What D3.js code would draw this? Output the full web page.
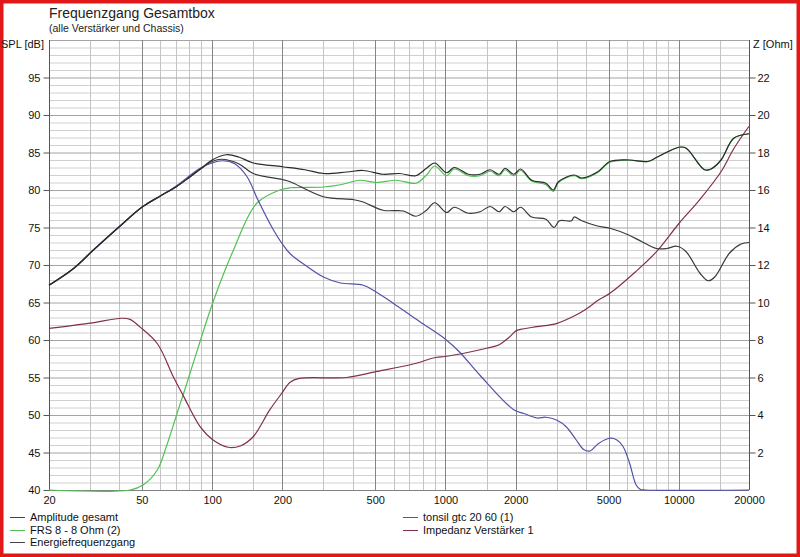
<!DOCTYPE html>
<html>
<head>
<meta charset="utf-8">
<title>Frequenzgang Gesamtbox</title>
<script src="https://cdn.jsdelivr.net/npm/d3@7"></script>
<style>
  body { margin: 0; background: #fff; }
  svg { display: block; font-family: "Liberation Sans", Arial, sans-serif; }
</style>
</head>
<body>
<div id="chart"></div>
<script>
// frequency response data (Hz / dB, impedance in Ohm)
const amp_freq = [20, 25.4, 31, 40, 50, 60, 70, 80, 90, 100, 115, 130, 150, 200, 250, 300, 378, 444, 540, 636, 747, 830, 900, 1012, 1090, 1255, 1406, 1555, 1700, 1800, 1962, 2100, 2342, 2696, 2900, 3050, 3560, 3840, 4480, 5070, 6100, 7360, 8100, 10000, 10730, 12900, 13750, 15180, 17200, 20000];
const amp_db   = [67.3, 69.5, 72.0, 75.1, 77.7, 79.2, 80.4, 81.7, 82.9, 84.0, 84.7, 84.4, 83.6, 83.1, 82.7, 82.2, 82.4, 82.6, 82.1, 82.2, 81.9, 82.9, 83.6, 82.3, 83.0, 82.1, 82.1, 82.7, 82.1, 82.9, 82.1, 82.8, 81.3, 80.9, 80.0, 81.1, 82.0, 81.6, 82.4, 83.8, 84.0, 83.8, 84.4, 85.7, 85.6, 82.7, 82.8, 84.0, 86.9, 87.5];

const frs_freq = [20, 44.5, 50.8, 58.3, 63.7, 70.1, 77.9, 88.8, 101, 123.5, 155, 195, 216, 300, 355, 430, 505, 616, 747, 830, 900, 1012, 1090, 1255, 1406, 1555, 1700, 1800, 1962, 2100, 2342, 2696, 2900, 3050, 3560, 3840, 4480, 5070, 6100, 7360, 8100, 10000, 10730, 12900, 13750, 15180, 17200, 20000];
const frs_db   = [40, 40, 40.7, 42.7, 45.8, 49.8, 54.2, 59.8, 65.1, 72.0, 78.2, 80.0, 80.3, 80.4, 80.7, 81.3, 81.0, 81.3, 80.9, 82.0, 83.2, 81.9, 82.8, 81.9, 81.9, 82.5, 81.9, 82.7, 81.9, 82.6, 81.2, 80.7, 79.8, 81.0, 81.9, 81.5, 82.3, 83.7, 84.0, 83.8, 84.4, 85.7, 85.6, 82.7, 82.8, 84.0, 86.9, 87.5];

const energy_freq = [20, 25.4, 31, 40, 50, 60, 70, 80, 90, 100, 110, 130, 150, 200, 216, 300, 405, 444, 540, 660, 747, 830, 900, 1012, 1090, 1255, 1406, 1555, 1700, 1800, 1962, 2100, 2342, 2696, 2920, 3080, 3470, 3560, 3840, 4480, 5070, 6100, 6960, 8010, 8876, 9820, 10730, 12330, 13380, 14260, 16510, 18500, 20000];
const energy_db   = [67.3, 69.5, 72.0, 75.1, 77.7, 79.2, 80.4, 81.7, 82.9, 83.8, 84.1, 83.5, 82.2, 81.4, 81.1, 79.1, 78.7, 78.4, 77.3, 77.2, 76.5, 77.3, 78.3, 77.0, 77.7, 76.9, 77.1, 77.8, 77.1, 77.8, 77.1, 77.7, 76.4, 76.1, 75.0, 75.9, 75.9, 76.4, 75.9, 75.2, 74.9, 74.0, 73.1, 72.2, 72.2, 72.5, 71.8, 68.9, 67.9, 68.4, 71.6, 72.8, 73.0];

const tonsil_freq = [20, 25.4, 31, 40, 50, 60, 70, 80, 90, 100, 111, 125, 141, 157, 183, 200, 216, 250, 300, 355, 444, 505, 597, 780, 1000, 1149, 1406, 1962, 2170, 2470, 2696, 3010, 3300, 3630, 3910, 4170, 4530, 5070, 5410, 5770, 6150, 6560, 6830, 7200, 20000];
const tonsil_db   = [67.3, 69.5, 72.0, 75.1, 77.7, 79.2, 80.5, 81.9, 83.0, 83.6, 83.9, 83.5, 81.8, 78.7, 74.7, 72.8, 71.5, 70.0, 68.4, 67.6, 67.3, 66.4, 64.9, 62.4, 60.1, 58.4, 55.3, 50.7, 50.2, 49.6, 49.7, 49.3, 48.4, 46.7, 45.4, 45.2, 46.2, 46.9, 46.7, 45.8, 43.6, 40.7, 40.1, 40, 40];

const imp_freq = [20, 30, 41, 44.5, 49, 58.3, 68.2, 75.6, 88.8, 101, 117, 132, 150, 176.6, 200, 216, 237, 377, 500, 727, 915, 1000, 1500, 1700, 1876, 2013, 2170, 2470, 3010, 3630, 4000, 4530, 5070, 6530, 8010, 10000, 12330, 15220, 17200, 20000];
const imp_ohm  = [8.62, 8.9, 9.16, 9.1, 8.7, 7.8, 6.04, 4.98, 3.38, 2.67, 2.28, 2.35, 2.84, 4.27, 5.2, 5.75, 5.95, 6.0, 6.3, 6.72, 7.08, 7.12, 7.56, 7.75, 8.15, 8.5, 8.6, 8.71, 8.89, 9.33, 9.64, 10.13, 10.49, 11.64, 12.7, 14.2, 15.5, 17.0, 18.2, 19.4];

const x_ticks = [20, 50, 100, 200, 500, 1000, 2000, 5000, 10000, 20000];
const x_major = [50, 100, 200, 500, 1000, 2000, 5000, 10000];
const spl_ticks = [40, 45, 50, 55, 60, 65, 70, 75, 80, 85, 90, 95];
const ohm_ticks = [2, 4, 6, 8, 10, 12, 14, 16, 18, 20, 22];

const width = 800, height = 557;
const margin = {top: 40, right: 51, bottom: 67, left: 49};

const svg = d3.select("#chart").append("svg")
  .attr("width", width)
  .attr("height", height);

svg.append("rect")
  .attr("x", 1.5).attr("y", 1.5)
  .attr("width", width - 3).attr("height", height - 3)
  .attr("fill", "#fff")
  .attr("stroke", "#e01818")
  .attr("stroke-width", 4);

const x = d3.scaleLog()
  .domain([20, 20000])
  .range([margin.left, width - margin.right]);

const y = d3.scaleLinear()
  .domain([40, 100])
  .range([height - margin.bottom, margin.top]);

const z = d3.scaleLinear()
  .domain([0, 24])
  .range([height - margin.bottom, margin.top]);

// grid
const minor_x = [];
for (let dec = 10; dec <= 10000; dec *= 10) {
  [1.5, 2, 3, 4, 5, 6, 7, 8, 9, 10].forEach(m => {
    const f = m * dec;
    if (f > 20 && f < 20000 && !x_major.includes(f)) minor_x.push(f);
  });
}

const grid = svg.append("g");

grid.selectAll("line.hminor")
  .data(d3.range(41, 101).filter(v => v % 5 != 0))
  .join("line")
    .attr("x1", x(20)).attr("x2", x(20000))
    .attr("y1", d => y(d) + 0.5).attr("y2", d => y(d) + 0.5)
    .attr("stroke", "#d0d0d0");

grid.selectAll("line.vminor")
  .data(minor_x)
  .join("line")
    .attr("x1", d => Math.round(x(d)) + 0.5).attr("x2", d => Math.round(x(d)) + 0.5)
    .attr("y1", y(100)).attr("y2", y(40))
    .attr("stroke", "#c4c4c4");

grid.selectAll("line.hmajor")
  .data(d3.range(45, 101, 5))
  .join("line")
    .attr("x1", x(20)).attr("x2", x(20000))
    .attr("y1", d => y(d) + 0.5).attr("y2", d => y(d) + 0.5)
    .attr("stroke", "#a4a4a4");

grid.selectAll("line.vmajor")
  .data(x_major)
  .join("line")
    .attr("x1", d => Math.round(x(d)) + 0.5).attr("x2", d => Math.round(x(d)) + 0.5)
    .attr("y1", y(100)).attr("y2", y(40))
    .attr("stroke", "#858585");

// frame lines
svg.append("line")
  .attr("x1", x(20)).attr("x2", x(20000))
  .attr("y1", y(40) + 0.5).attr("y2", y(40) + 0.5)
  .attr("stroke", "#808080");

// axes
const yAxis = g => g
  .attr("transform", `translate(${x(20) + 0.5},0)`)
  .call(d3.axisLeft(y).tickValues(spl_ticks).tickSize(6).tickPadding(3).tickSizeOuter(0))
  .call(g => g.select(".domain").attr("stroke", "#555").attr("d", `M0,${y(100)}V${y(40)}`))
  .call(g => g.selectAll(".tick line").attr("stroke", "#555"))
  .call(g => g.selectAll(".tick text").attr("fill", "#111").style("font-size", "11px"));

const zAxis = g => g
  .attr("transform", `translate(${x(20000) + 0.5},0)`)
  .call(d3.axisRight(z).tickValues(ohm_ticks).tickSize(6).tickPadding(2).tickSizeOuter(0))
  .call(g => g.select(".domain").attr("stroke", "#555").attr("d", `M0,${z(24)}V${z(0)}`))
  .call(g => g.selectAll(".tick line").attr("stroke", "#555"))
  .call(g => g.selectAll(".tick text").attr("fill", "#111").style("font-size", "11px"));

const xAxis = g => g
  .attr("transform", `translate(0,${y(40)})`)
  .call(d3.axisBottom(x).tickValues(x_ticks).tickFormat(d3.format("d")).tickSize(0).tickPadding(6))
  .call(g => g.select(".domain").remove())
  .call(g => g.selectAll(".tick text").attr("fill", "#111").style("font-size", "11px"));

svg.append("g").call(yAxis);
svg.append("g").call(zAxis);
svg.append("g").call(xAxis);

// curves
const line_db = d3.line()
  .x(d => x(d[0]))
  .y(d => y(d[1]))
  .curve(d3.curveCatmullRom.alpha(0.5));

const line_ohm = d3.line()
  .x(d => x(d[0]))
  .y(d => z(d[1]))
  .curve(d3.curveCatmullRom.alpha(0.5));

const series = [
  {name: "FRS 8 - 8 Ohm (2)", color: "#52c052", path: line_db(d3.zip(frs_freq, frs_db))},
  {name: "tonsil gtc 20 60 (1)", color: "#5252a8", path: line_db(d3.zip(tonsil_freq, tonsil_db))},
  {name: "Impedanz Verstärker 1", color: "#803244", path: line_ohm(d3.zip(imp_freq, imp_ohm))},
  {name: "Energiefrequenzgang", color: "#383838", path: line_db(d3.zip(energy_freq, energy_db))},
  {name: "Amplitude gesamt", color: "#2a2a2a", path: line_db(d3.zip(amp_freq, amp_db))}
];

svg.append("g")
  .attr("fill", "none")
  .attr("stroke-width", 1.2)
  .attr("stroke-linejoin", "round")
  .selectAll("path")
  .data(series)
  .join("path")
    .attr("stroke", d => d.color)
    .attr("d", d => d.path);

// titles
svg.append("text")
  .attr("x", 49).attr("y", 18)
  .style("font-size", "14px")
  .attr("fill", "#222")
  .text("Frequenzgang Gesamtbox");

svg.append("text")
  .attr("x", 49).attr("y", 32)
  .style("font-size", "10.5px")
  .attr("fill", "#222")
  .text("(alle Verstärker und Chassis)");

svg.append("text")
  .attr("x", 44).attr("y", 48)
  .attr("text-anchor", "end")
  .style("font-size", "11px")
  .attr("fill", "#111")
  .text("SPL [dB]");

svg.append("text")
  .attr("x", 753).attr("y", 48)
  .style("font-size", "11px")
  .attr("fill", "#111")
  .text("Z [Ohm]");

// legend
const legend = [
  {name: "Amplitude gesamt", color: "#444", x: 10, y: 517},
  {name: "FRS 8 - 8 Ohm (2)", color: "#52c052", x: 10, y: 530},
  {name: "Energiefrequenzgang", color: "#444", x: 10, y: 542},
  {name: "tonsil gtc 20 60 (1)", color: "#5252a8", x: 403, y: 517},
  {name: "Impedanz Verstärker 1", color: "#803244", x: 403, y: 530}
];

const lg = svg.append("g")
  .selectAll("g")
  .data(legend)
  .join("g")
    .attr("transform", d => `translate(${d.x},${d.y})`);

lg.append("line")
  .attr("x1", 0).attr("x2", 15)
  .attr("y1", 0.5).attr("y2", 0.5)
  .attr("stroke", d => d.color);

lg.append("text")
  .attr("x", 20).attr("y", 4)
  .style("font-size", "11px")
  .attr("fill", "#111")
  .text(d => d.name);
</script>
</body>
</html>
